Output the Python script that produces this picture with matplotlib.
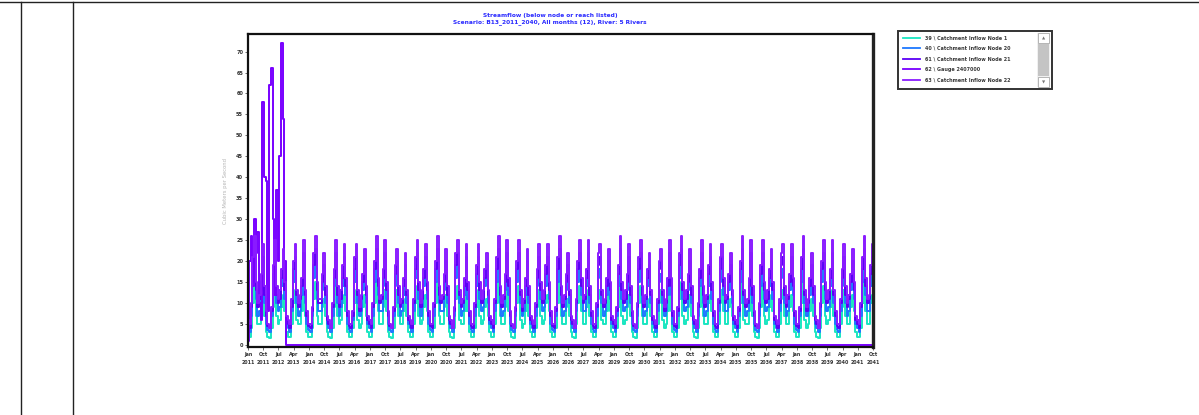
import numpy as np
import matplotlib
matplotlib.use("Agg")
import matplotlib.pyplot as plt
from matplotlib.lines import Line2D
from matplotlib.patches import Rectangle

# ---------------- data (monthly, Jan 2011 onward) ----------------
title_line1 = "Streamflow (below node or reach listed)"
title_line2 = "Scenario: B13_2011_2040, All months (12), River: 5 Rivers"
y_label = "Cubic Meters per Second"

series_names = [
    "39 \\ Catchment Inflow Node 1",
    "40 \\ Catchment Inflow Node 20",
    "61 \\ Catchment Inflow Node 21",
    "62 \\ Gauge 2407000",
    "63 \\ Catchment Inflow Node 22",
]
series_colors = ["#19e6c1", "#1e78ff", "#5a00f5", "#7800ff", "#8a1cff"]

s39_rows = [
    [2,2,4,10,14,7,5,5,9,12,7,3], [2,1.7,4,9,14,7,5,6,9,12,8,3], [2,2,5,10,13,6,5,5,8,13,7,3],
    [2,1.8,4,11,15,7,5,5,9,11,7,3], [2,1.7,4,9,14,7,5,6,10,12,8,3], [2,2,4,10,13,6,4,5,9,12,7,3],
    [2,1.8,4,10,15,8,5,5,9,13,8,3], [2,1.7,4,9,13,7,5,5,8,11,7,3], [2,2,5,10,14,7,5,6,9,12,8,3],
    [2,1.8,4,10,15,7,5,5,9,12,7,3], [2,1.7,4,11,14,6,5,5,8,12,8,3], [2,2,4,9,13,7,5,6,9,11,7,3],
    [2,1.8,5,10,15,7,5,5,9,13,8,3], [2,1.7,4,10,14,6,4,5,8,12,7,3], [2,2,4,9,13,7,5,6,10,12,8,3],
    [2,1.8,4,10,15,7,5,5,9,11,7,3], [2,1.7,5,10,14,8,5,5,9,13,7,3], [2,2,4,11,13,6,5,5,8,12,8,3],
    [2,1.8,4,9,15,7,5,6,9,12,7,3], [2,1.7,4,10,14,7,5,5,9,11,7,3], [2,2,5,10,13,6,4,5,8,13,8,3],
    [2,1.8,4,11,15,7,5,6,9,12,7,3], [2,1.7,4,9,14,7,5,5,10,12,8,3], [2,2,5,10,13,8,5,5,9,11,7,3],
    [2,1.8,4,10,15,6,5,5,8,13,7,3], [2,1.7,4,9,14,7,5,6,9,12,8,3], [2,2,5,11,13,7,5,5,9,12,8,3],
    [2,1.8,4,10,15,6,4,5,8,11,7,3], [2,1.7,4,10,14,7,5,6,9,13,7,3], [2,2,5,9,13,7,5,5,9,12,8,3],
    [2,1.8,4,10,15,8,5,5,10,12,7,3],
]
s40_rows = [
    [4,3,7,15,20,11,7,8,13,18,10,5], [3.5,3,7,14,19,10,8,9,14,17,11,5], [4,3,8,15,18,10,7,8,12,19,10,5],
    [3.5,3,7,16,20,11,8,8,13,16,10,5], [4,3,7,14,19,10,7,9,14,18,12,5], [3.5,3,6,15,18,10,7,8,13,17,10,5],
    [4,3,7,15,20,12,8,8,14,19,11,5], [3.5,3,7,14,17,10,7,8,12,16,10,5], [4,3,8,16,19,11,7,9,14,18,11,5],
    [3.5,3,7,15,20,10,8,8,13,17,10,5], [4,3,7,16,19,10,7,8,12,18,11,5], [3.5,3,7,14,18,11,8,9,14,16,10,5],
    [4,3,8,15,20,10,7,8,13,19,12,5], [3.5,3,7,15,19,10,7,8,12,17,10,5], [4,3,7,14,18,11,8,9,14,18,11,5],
    [3.5,3,7,15,20,10,7,8,13,16,10,5], [4,3,8,15,19,12,8,8,14,19,10,5], [3.5,3,7,16,18,10,7,8,12,17,11,5],
    [4,3,7,14,20,11,8,9,13,18,10,5], [3.5,3,7,15,19,10,7,8,14,16,10,5], [4,3,8,15,17,10,7,8,12,19,12,5],
    [3.5,3,7,16,20,11,8,9,13,17,10,5], [4,3,7,14,19,10,7,8,14,18,11,5], [3.5,3,8,15,18,12,8,8,13,16,10,5],
    [4,3,7,15,20,10,7,8,12,19,10,5], [3.5,3,7,14,19,11,8,9,14,17,11,5], [4,3,8,16,18,10,7,8,13,18,12,5],
    [3.5,3,7,15,20,10,7,8,12,16,10,5], [4,3,7,15,19,11,8,9,14,19,10,5], [3.5,3,8,14,18,10,7,8,13,17,11,5],
    [4,3,7,15,20,12,8,8,14,18,10,5],
]
s61_rows = [
    [5,4,9,18,23,13,9,11,15,21,12,7], [4.5,4,8,17,22,12,10,11,16,20,13,6], [5,4,9,18,21,12,9,11,14,22,12,7],
    [4.5,4,8,19,23,13,10,10,15,19,12,6], [5,4,9,16,22,12,9,11,16,21,14,7], [4.5,4,7,18,21,12,8,11,15,20,12,6],
    [5,4,9,18,23,14,10,11,16,22,13,7], [4.5,4,8,17,20,12,9,10,14,19,12,6], [5,4,10,18,22,13,9,11,16,21,13,7],
    [4.5,4,9,18,23,12,10,11,15,20,12,6], [5,4,8,19,22,12,9,10,14,21,13,7], [4.5,4,9,17,21,13,10,11,16,19,12,6],
    [5,4,10,18,23,12,9,11,15,22,14,7], [4.5,4,8,18,22,12,8,10,14,20,12,6], [5,4,9,16,21,13,10,11,17,21,13,7],
    [4.5,4,8,18,23,12,9,11,15,19,12,6], [5,4,10,18,22,14,10,11,16,22,12,7], [4.5,4,9,19,21,12,9,10,14,20,13,6],
    [5,4,8,17,23,13,10,11,15,21,12,7], [4.5,4,9,18,22,12,9,11,16,19,12,6], [5,4,10,18,20,12,8,10,14,22,14,7],
    [4.5,4,8,19,23,13,10,11,15,20,12,6], [5,4,9,16,22,12,9,11,17,21,13,7], [4.5,4,10,18,21,14,10,11,15,19,12,6],
    [5,4,8,18,23,12,9,10,14,22,12,7], [4.5,4,9,17,22,13,10,11,16,20,13,6], [5,4,10,19,21,12,9,11,15,21,14,7],
    [4.5,4,8,18,23,12,8,10,14,19,12,6], [5,4,9,18,22,13,10,11,16,22,12,7], [4.5,4,10,16,21,12,9,11,15,20,13,6],
    [5,4,9,18,23,14,10,11,17,21,12,7],
]
s63_rows = [
    [6,5,10,21,26,15,10,12,17,24,14,8], [5,4,9,19,25,14,11,13,18,23,15,7], [6,5,11,20,24,13,10,12,16,25,13,8],
    [5,5,9,22,26,15,11,11,17,22,14,7], [6,4,10,18,25,14,10,13,19,24,16,8], [5,5,8,21,24,13,9,12,17,23,14,7],
    [6,5,10,20,26,16,11,12,18,25,15,8], [5,4,9,19,23,14,10,11,16,22,13,7], [6,5,11,21,25,15,10,13,18,24,15,8],
    [5,5,10,20,26,14,11,12,17,23,14,7], [6,4,9,22,25,13,10,11,16,24,15,8], [5,5,10,19,24,15,11,13,18,22,13,7],
    [6,5,11,21,26,14,10,12,17,25,16,8], [5,4,9,20,25,13,9,11,16,23,14,7], [6,5,10,18,24,15,11,13,19,24,15,8],
    [5,5,9,21,26,14,10,12,17,22,13,7], [6,4,11,20,25,16,11,12,18,25,14,8], [5,5,10,22,24,13,10,11,16,23,15,7],
    [6,5,9,19,26,15,11,13,17,24,14,8], [5,4,10,21,25,14,10,12,18,22,13,7], [6,5,11,20,23,13,9,11,16,25,16,8],
    [5,5,9,22,26,15,11,13,17,23,14,7], [6,4,10,18,25,14,10,12,19,24,15,8], [5,5,11,21,24,16,11,12,17,22,13,7],
    [6,5,9,20,26,13,10,11,16,25,14,8], [5,4,10,19,25,15,11,13,18,23,15,7], [6,5,11,22,24,14,10,12,17,24,16,8],
    [5,5,9,21,26,13,9,11,16,22,14,7], [6,4,10,20,25,15,11,13,18,25,13,8], [5,5,11,18,24,14,10,12,17,23,15,7],
    [6,5,10,21,26,16,11,12,19,24,14,8],
]
gauge_first = [1, 20, 26, 14, 30, 22, 27, 10, 6, 58, 40, 39,
               8, 62, 66, 30, 12, 37, 20, 45, 72, 54, 20, 0]

tick_months = ["Jan", "Oct", "Jul", "Apr"]
y_ticks = [0, 5, 10, 15, 20, 25, 30, 35, 40, 45, 50, 55, 60, 65, 70]

# ---------------- assemble ----------------
n_months = 370  # Jan 2011 .. Oct 2041
s39 = np.array(s39_rows, float).ravel()[:n_months]
s40 = np.array(s40_rows, float).ravel()[:n_months]
s61 = np.array(s61_rows, float).ravel()[:n_months]
s63 = np.array(s63_rows, float).ravel()[:n_months]
gauge = np.zeros(n_months)
gauge[:len(gauge_first)] = gauge_first
x = np.arange(n_months)
series = [s39, s40, s61, gauge, s63]

W, H = 1199, 415
fig = plt.figure(figsize=(W / 100, H / 100), dpi=100)
fig.patch.set_facecolor("white")

ax = fig.add_axes([248 / W, 1 - 347 / H, (873 - 248) / W, (347 - 34) / H])
for s, c, n in zip(series, series_colors, series_names):
    ax.plot(x, s, color=c, lw=1.4, label=n, drawstyle="steps-mid")

ax.set_xlim(0, n_months - 1)
ax.set_ylim(-0.5, 74.2)
ax.set_yticks(y_ticks)
ax.set_yticklabels([str(v) for v in y_ticks], fontsize=3.6, color="#333333", fontweight="bold")

tick_pos = np.arange(0, n_months, 9)
labels = []
for i, p in enumerate(tick_pos):
    yr = 2011 + p // 12
    labels.append(f"{tick_months[i % 4]}\n{yr}")
ax.set_xticks(tick_pos)
ax.set_xticklabels(labels, fontsize=3.4, color="#333333", fontweight="bold", linespacing=1.9)
ax.tick_params(axis="both", length=2, width=0.6, pad=1.5, colors="#555555")
for lab in ax.get_xticklabels() + ax.get_yticklabels():
    lab.set_color("#333333")

for side in ["left", "top", "bottom"]:
    ax.spines[side].set_linewidth(1.6)
    ax.spines[side].set_color("#111111")
ax.spines["right"].set_linewidth(2.4)
ax.spines["right"].set_color("#222222")

ax.set_ylabel(y_label, fontsize=3.8, color="#b5b5b5", labelpad=6)

fig.text(550 / W, 1 - 15 / H, title_line1, ha="center", va="center",
         fontsize=4.2, color="#2a2aff", fontweight="bold")
fig.text(550 / W, 1 - 22 / H, title_line2, ha="center", va="center",
         fontsize=4.2, color="#2a2aff", fontweight="bold")

# legend box with scrollbar
lx0, lx1, ly0, ly1 = 898, 1052, 31, 89
fig.patches.append(Rectangle((lx0 / W, 1 - ly1 / H), (lx1 - lx0) / W, (ly1 - ly0) / H,
                             transform=fig.transFigure, facecolor="white",
                             edgecolor="#333333", lw=1.4))
fig.patches.append(Rectangle((1037 / W, 1 - 87 / H), 13 / W, 54 / H,
                             transform=fig.transFigure, facecolor="#f0f0f0",
                             edgecolor="none"))
fig.patches.append(Rectangle((1038 / W, 1 - 76 / H), 11 / W, 32 / H,
                             transform=fig.transFigure, facecolor="#c4c4c4",
                             edgecolor="none"))
for yy in (33, 77):
    fig.patches.append(Rectangle((1038 / W, 1 - (yy + 10) / H), 11 / W, 10 / H,
                                 transform=fig.transFigure, facecolor="white",
                                 edgecolor="#9a9a9a", lw=0.5))
fig.text(1043.5 / W, 1 - 38 / H, "\u25b2", fontsize=3, ha="center", va="center", color="#777777")
fig.text(1043.5 / W, 1 - 82 / H, "\u25bc", fontsize=3, ha="center", va="center", color="#777777")

row_y = [38, 48, 59, 69, 80]
for n, c, yy in zip(series_names, series_colors, row_y):
    fig.add_artist(Line2D([903 / W, 920 / W], [1 - yy / H, 1 - yy / H], color=c, lw=1.3))
    fig.text(925 / W, 1 - yy / H, n, fontsize=3.5, va="center", ha="left",
             color="#3a3a3a", fontweight="bold")

# page/table lines
fig.add_artist(Line2D([0, 1], [1 - 2.5 / H, 1 - 2.5 / H], color="#222222", lw=1.0))
for xx in (20.5, 72.5):
    fig.add_artist(Line2D([xx / W, xx / W], [0, 1 - 2.5 / H], color="#222222", lw=1.0))

fig.savefig("out.png", dpi=100, facecolor="white")
